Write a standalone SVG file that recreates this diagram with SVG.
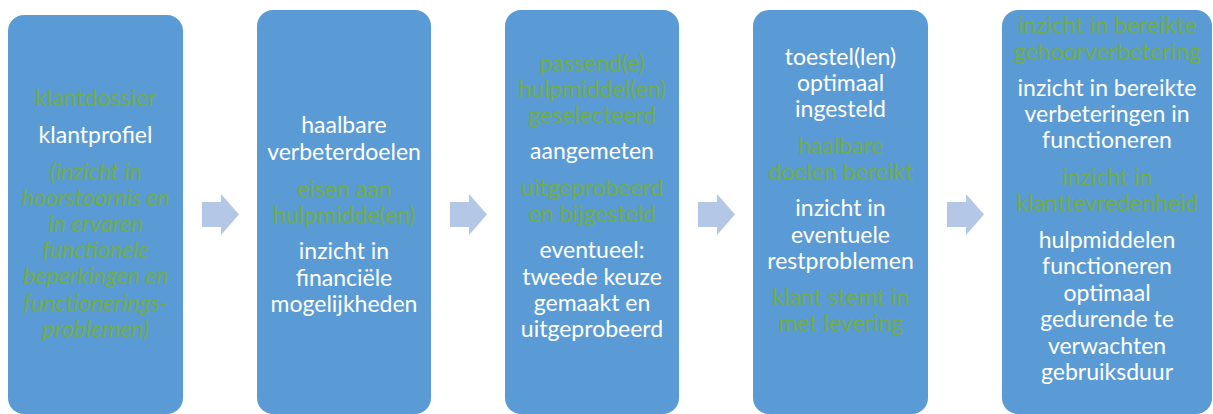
<svg xmlns="http://www.w3.org/2000/svg" width="1213" height="414" viewBox="0 0 1213 414">
<style>
.box{fill:#5B9BD5}
.arr{fill:#B4C7E7}
text{font-family:Lato,"Liberation Sans",sans-serif;font-size:23px;text-anchor:middle}
.w{fill:#FFFFFF}
.g{fill:#70AD47}
.i{font-style:italic}
</style>
<rect width="1213" height="414" fill="#FFFFFF"/>
<g id="connectors">
<path class="arr" d="M202,202 H221 V194 L239,214.5 L221,235 V227 H202 Z"/>
<path class="arr" d="M450,202 H469 V194 L487,214.5 L469,235 V227 H450 Z"/>
<path class="arr" d="M698,202 H717 V194 L735,214.5 L717,235 V227 H698 Z"/>
<path class="arr" d="M947,202 H966 V194 L984,214.5 L966,235 V227 H947 Z"/>
</g>
<g id="node1">
<rect class="box" x="8" y="15" width="175" height="399" rx="16"/>
<text x="95.5" y="106" class="g">klantdossier</text>
<text x="95.5" y="143.2" class="w">klantprofiel</text>
<text x="95.5" y="179.6" class="g i">(inzicht in</text>
<text x="95.5" y="205.8" class="g i">hoorstoornis en</text>
<text x="95.5" y="232" class="g i">in ervaren</text>
<text x="95.5" y="258.2" class="g i">functionele</text>
<text x="95.5" y="284.4" class="g i">beperkingen en</text>
<text x="95.5" y="310.6" class="g i">functionerings-</text>
<text x="95.5" y="336.8" class="g i">problemen)</text>
</g>
<g id="node2">
<rect class="box" x="257" y="10" width="174" height="404" rx="16"/>
<text x="344" y="133.3" class="w">haalbare</text>
<text x="344" y="159.5" class="w">verbeterdoelen</text>
<text x="344" y="196.7" class="g">eisen aan</text>
<text x="344" y="222.9" class="g">hulpmidde(en)</text>
<text x="344" y="259.3" class="w">inzicht in</text>
<text x="344" y="285.5" class="w">financiële</text>
<text x="344" y="311.7" class="w">mogelijkheden</text>
</g>
<g id="node3">
<rect class="box" x="505" y="10" width="174" height="404" rx="16"/>
<text x="592" y="70.5" class="g">passend(e)</text>
<text x="592" y="96.7" class="g">hulpmiddel(en)</text>
<text x="592" y="122.9" class="g">geselecteerd</text>
<text x="592" y="159.3" class="w">aangemeten</text>
<text x="592" y="195.7" class="g">uitgeprobeerd</text>
<text x="592" y="221.9" class="g">en bijgesteld</text>
<text x="592" y="258.3" class="w">eventueel:</text>
<text x="592" y="284.5" class="w">tweede keuze</text>
<text x="592" y="310.7" class="w">gemaakt en</text>
<text x="592" y="336.9" class="w">uitgeprobeerd</text>
</g>
<g id="node4">
<rect class="box" x="753" y="10" width="175" height="404" rx="16"/>
<text x="840.5" y="65" class="w">toestel(len)</text>
<text x="840.5" y="91.2" class="w">optimaal</text>
<text x="840.5" y="117.4" class="w">ingesteld</text>
<text x="840.5" y="153.8" class="g">haalbare</text>
<text x="840.5" y="180" class="g">doelen bereikt</text>
<text x="840.5" y="216.4" class="w">inzicht in</text>
<text x="840.5" y="242.6" class="w">eventuele</text>
<text x="840.5" y="268.8" class="w">restproblemen</text>
<text x="840.5" y="305.2" class="g">klant stemt in</text>
<text x="840.5" y="331.4" class="g">met levering</text>
</g>
<g id="node5">
<rect class="box" x="1002" y="10" width="210" height="404" rx="16"/>
<text x="1107" y="33.3" class="g">inzicht in bereikte</text>
<text x="1107" y="59.5" class="g">gehoorverbetering</text>
<text x="1107" y="96" class="w">inzicht in bereikte</text>
<text x="1107" y="122.2" class="w">verbeteringen in</text>
<text x="1107" y="148.4" class="w">functioneren</text>
<text x="1107" y="184.8" class="g">inzicht in</text>
<text x="1107" y="211" class="g">klanttevredenheid</text>
<text x="1107" y="248" class="w">hulpmiddelen</text>
<text x="1107" y="274.4" class="w">functioneren</text>
<text x="1107" y="300.8" class="w">optimaal</text>
<text x="1107" y="327.2" class="w">gedurende te</text>
<text x="1107" y="353.6" class="w">verwachten</text>
<text x="1107" y="380" class="w">gebruiksduur</text>
</g>
</svg>
